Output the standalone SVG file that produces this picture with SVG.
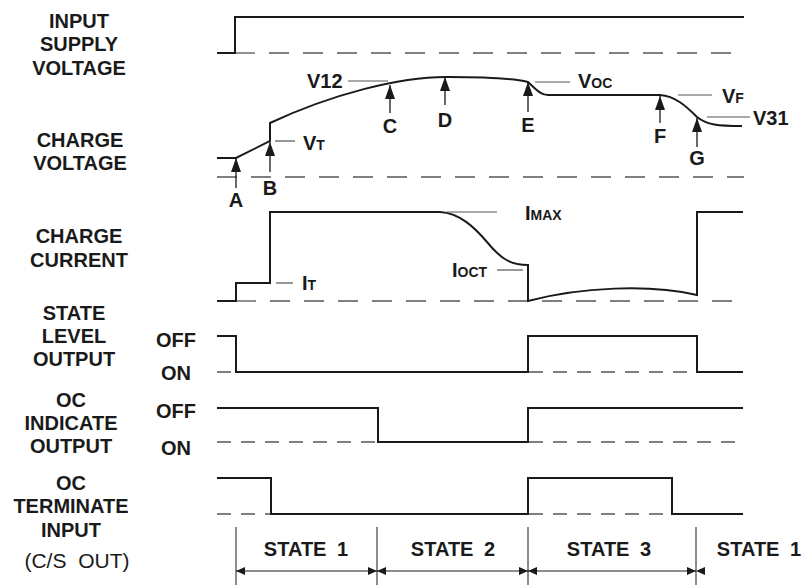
<svg xmlns="http://www.w3.org/2000/svg" width="808" height="585" viewBox="0 0 808 585">
<style>
text{font-family:"Liberation Sans",Arial,sans-serif;font-weight:bold;fill:#1a1a1a;font-size:20px}
.lbl{text-anchor:middle}
.sm{font-size:14px}
.sig{fill:none;stroke:#1a1a1a;stroke-width:2;stroke-linejoin:miter}
.dl{fill:none;stroke:#555;stroke-width:1.3;stroke-dasharray:20 14}
.ds{fill:none;stroke:#555;stroke-width:1.3;stroke-dasharray:14 10}
.ld{stroke:#555;stroke-width:1.2}
.ar{stroke:#1a1a1a;stroke-width:1.3;marker-end:url(#ah)}
.bd{stroke:#1a1a1a;stroke-width:1}
.sa{stroke:#1a1a1a;stroke-width:1.2;marker-start:url(#sh);marker-end:url(#sh)}
</style>
<defs>
<marker id="ah" viewBox="0 0 14 10" refX="14" refY="5" markerWidth="14" markerHeight="10" markerUnits="userSpaceOnUse" orient="auto"><path d="M0,0 L14,5 L0,10 z" fill="#1a1a1a"/></marker>
<marker id="sh" viewBox="0 0 9 8" refX="9" refY="4" markerWidth="9" markerHeight="8" markerUnits="userSpaceOnUse" orient="auto-start-reverse"><path d="M0,0 L9,4 L0,8 z" fill="#1a1a1a"/></marker>
</defs>

<g id="row-labels">
<text class="lbl" x="79" y="28">INPUT</text>
<text class="lbl" x="79" y="51">SUPPLY</text>
<text class="lbl" x="79" y="75">VOLTAGE</text>
<text class="lbl" x="80" y="147">CHARGE</text>
<text class="lbl" x="80" y="170">VOLTAGE</text>
<text class="lbl" x="79" y="243">CHARGE</text>
<text class="lbl" x="79" y="267">CURRENT</text>
<text class="lbl" x="74" y="320">STATE</text>
<text class="lbl" x="74" y="343">LEVEL</text>
<text class="lbl" x="74" y="366">OUTPUT</text>
<text class="lbl" x="71" y="407">OC</text>
<text class="lbl" x="71" y="430">INDICATE</text>
<text class="lbl" x="71" y="453">OUTPUT</text>
<text class="lbl" x="71" y="490">OC</text>
<text class="lbl" x="71" y="513">TERMINATE</text>
<text class="lbl" x="71" y="537">INPUT</text>
<text class="lbl" x="77" y="568" word-spacing="6" style="font-weight:normal;font-size:21px">(C/S OUT)</text>
<text class="lbl" x="176" y="347">OFF</text>
<text class="lbl" x="176" y="380">ON</text>
<text class="lbl" x="176" y="418">OFF</text>
<text class="lbl" x="176" y="455">ON</text>
</g>

<g id="baselines">
<line class="dl" x1="235" y1="53" x2="744" y2="53"/>
<line class="dl" x1="217" y1="177" x2="744" y2="177"/>
<line class="dl" x1="236" y1="301" x2="743" y2="301"/>
<line class="ds" x1="217" y1="372" x2="743" y2="372"/>
<line class="ds" x1="217" y1="442" x2="743" y2="442"/>
<line class="ds" x1="217" y1="514" x2="743" y2="514"/>
</g>

<g id="input-supply-voltage">
<path class="sig" d="M217,53 L235,53 L235,17 L744,17"/>
</g>

<g id="charge-voltage">
<path class="sig" d="M217,158 L236,158 L270,141 L270,123 C330,95 400,76 450,77 C490,77 515,79 528,82 C535,88 540,95 548,95 L660,95 C675,96 686,106 697,117 C707,125 718,126 742,126"/>
<line class="ld" x1="348" y1="81" x2="388" y2="81"/>
<text x="307" y="88">V12</text>
<line class="ld" x1="275" y1="141" x2="295" y2="141"/>
<text x="303" y="150">V<tspan class="sm">T</tspan></text>
<line class="ld" x1="535" y1="82" x2="570" y2="82"/>
<text x="578" y="88">V<tspan class="sm">OC</tspan></text>
<line class="ld" x1="678" y1="95" x2="712" y2="95"/>
<text x="722" y="103">V<tspan class="sm">F</tspan></text>
<line class="ld" x1="707" y1="117" x2="750" y2="117"/>
<text x="753" y="125">V31</text>
</g>

<g id="event-markers">
<line class="ar" x1="236" y1="188" x2="236" y2="158"/>
<text class="lbl" x="236" y="207">A</text>
<line class="ar" x1="270" y1="172" x2="270" y2="142"/>
<text class="lbl" x="270" y="195">B</text>
<line class="ar" x1="390" y1="113" x2="390" y2="85"/>
<text class="lbl" x="390" y="133">C</text>
<line class="ar" x1="445" y1="105" x2="445" y2="77"/>
<text class="lbl" x="445" y="127">D</text>
<line class="ar" x1="528" y1="112" x2="528" y2="82"/>
<text class="lbl" x="528" y="132">E</text>
<line class="ar" x1="660" y1="123" x2="660" y2="96"/>
<text class="lbl" x="660" y="143">F</text>
<line class="ar" x1="697" y1="147" x2="697" y2="118"/>
<text class="lbl" x="697" y="165">G</text>
</g>

<g id="charge-current">
<path class="sig" d="M217,301 L236,301 L236,283 L270,283 L270,212 L440,212 C460,213 475,228 487,242 C500,258 510,265 528,265 L528,301 C580,287 650,284 697,295 L697,212 L743,212"/>
<line class="ld" x1="276" y1="283" x2="293" y2="283"/>
<text x="302" y="290">I<tspan class="sm">T</tspan></text>
<line class="ld" x1="447" y1="212" x2="497" y2="212"/>
<text x="525" y="220">I<tspan class="sm">MAX</tspan></text>
<line class="ld" x1="497" y1="270" x2="523" y2="270"/>
<text x="452" y="277">I<tspan class="sm">OCT</tspan></text>
</g>

<g id="state-level-output">
<path class="sig" d="M217,336 L236,336 L236,372 L528,372 L528,336 L697,336 L697,372 L743,372"/>
</g>

<g id="oc-indicate-output">
<path class="sig" d="M217,408 L378,408 L378,442 L528,442 L528,408 L743,408"/>
</g>

<g id="oc-terminate-input">
<path class="sig" d="M217,478 L271,478 L271,514 L528,514 L528,478 L672,478 L672,514 L743,514"/>
</g>

<g id="states">
<line class="bd" x1="236" y1="527" x2="236" y2="585"/>
<line class="bd" x1="377" y1="527" x2="377" y2="585"/>
<line class="bd" x1="528" y1="527" x2="528" y2="585"/>
<line class="bd" x1="696" y1="527" x2="696" y2="585"/>
<line class="sa" x1="236" y1="571" x2="377" y2="571"/>
<line class="sa" x1="377" y1="571" x2="528" y2="571"/>
<line class="sa" x1="528" y1="571" x2="696" y2="571"/>
<path d="M696,571 L705,567 L705,575 z" fill="#1a1a1a"/>
<text class="lbl" x="306" y="556" word-spacing="5">STATE 1</text>
<text class="lbl" x="453" y="556" word-spacing="5">STATE 2</text>
<text class="lbl" x="609" y="556" word-spacing="5">STATE 3</text>
<text class="lbl" x="759" y="556" word-spacing="5">STATE 1</text>
</g>
</svg>
